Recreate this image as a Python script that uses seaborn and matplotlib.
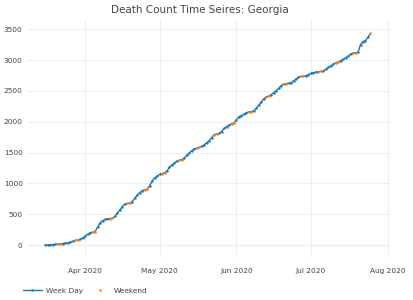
import matplotlib
matplotlib.use("Agg")
import matplotlib.pyplot as plt
import seaborn as sns
import pandas as pd
import numpy as np
from matplotlib.lines import Line2D

start_date = "2020-03-16"
end_date = "2020-07-25"

deaths_mar = [1, 3, 5, 8, 12, 17, 20, 25, 30, 38, 48, 60, 75, 82, 95, 115]
deaths_apr = [145, 175, 200, 210, 218, 290, 360, 395, 415, 425,
              430, 435, 465, 520, 570, 625, 665, 675, 680, 705,
              760, 810, 850, 880, 895, 905, 960, 1040, 1090, 1120]
deaths_may = [1145, 1160, 1170, 1200, 1260, 1300, 1330, 1360, 1375, 1385,
              1410, 1460, 1495, 1530, 1560, 1575, 1582, 1600, 1625, 1660,
              1690, 1740, 1790, 1800, 1810, 1840, 1890, 1920, 1945, 1965, 1980]
deaths_jun = [2030, 2080, 2100, 2120, 2145, 2160, 2165, 2175, 2220, 2270,
              2320, 2370, 2405, 2415, 2440, 2470, 2505, 2540, 2585, 2610,
              2618, 2620, 2630, 2663, 2690, 2720, 2735, 2740, 2745, 2765]
deaths_jul = [2783, 2795, 2805, 2810, 2815, 2825, 2850, 2880, 2905, 2935,
              2955, 2965, 2990, 3010, 3035, 3063, 3095, 3115, 3118, 3125,
              3250, 3300, 3315, 3370, 3430]

title = "Death Count Time Seires: Georgia"
series_names = ["Week Day", "Weekend"]
tick_dates = ["2020-04-01", "2020-05-01", "2020-06-01", "2020-07-01", "2020-08-01"]
tick_labels = ["Apr 2020", "May 2020", "Jun 2020", "Jul 2020", "Aug 2020"]
y_ticks = [0, 500, 1000, 1500, 2000, 2500, 3000, 3500]

dates = pd.date_range(start_date, end_date, freq="D")
deaths = deaths_mar + deaths_apr + deaths_may + deaths_jun + deaths_jul
assert len(dates) == len(deaths), (len(dates), len(deaths))
df = pd.DataFrame({"date": dates, "deaths": deaths})
df["kind"] = np.where(df["date"].dt.dayofweek >= 5, series_names[1], series_names[0])
wd = df[df["kind"] == series_names[0]]
we = df[df["kind"] == series_names[1]]

sns.set_theme(style="white")
plt.rcParams["font.family"] = ["DejaVu Sans"]

blue = "#1f77b4"
orange = "#ff7f0e"
text_col = "#444444"
fig = plt.figure(figsize=(4.13, 3.0), dpi=100)
ax = fig.add_axes([0.065, 0.143, 0.879, 0.79])

# continuous line through every day
sns.lineplot(data=df, x="date", y="deaths", ax=ax, color=blue, linewidth=1.0, legend=False)
sns.scatterplot(data=wd, x="date", y="deaths", ax=ax, color=blue, s=3,
                linewidth=0, legend=False, zorder=3)
sns.scatterplot(data=we, x="date", y="deaths", ax=ax, color=orange, s=3.5,
                linewidth=0, legend=False, zorder=4)

ax.set_xlim(pd.Timestamp("2020-03-08 12:00"), pd.Timestamp("2020-08-01 20:00"))
ax.set_ylim(-195, 3647)
ax.set_xticks([pd.Timestamp(d) for d in tick_dates])
ax.set_xticklabels(tick_labels)
ax.set_yticks(y_ticks)
ax.set_yticklabels([str(v) for v in y_ticks])
ax.set_xlabel("")
ax.set_ylabel("")
ax.grid(True, color="#eeeeee", linewidth=0.7)
ax.axhline(0, color="#e4e4e4", linewidth=0.8, zorder=0)
for s in ax.spines.values():
    s.set_visible(False)
ax.tick_params(axis="both", length=0, labelsize=5.3, colors=text_col, pad=3)
ax.tick_params(axis="x", pad=8)
fig.suptitle(title, x=0.483, y=0.982, fontsize=7.5, color=text_col)

handles = [
    Line2D([], [], color=blue, linewidth=1.0, marker="o", markersize=1.8, markeredgewidth=0),
    Line2D([], [], color=orange, linewidth=0, marker="o", markersize=1.8, markeredgewidth=0),
]
leg = ax.legend(handles, series_names, loc="upper left", bbox_to_anchor=(-0.03, -0.1),
                ncol=2, frameon=False, fontsize=5.3, handlelength=2.6,
                columnspacing=1.0, handletextpad=0.6)
for t in leg.get_texts():
    t.set_color(text_col)

fig.savefig("out.png", dpi=100)
